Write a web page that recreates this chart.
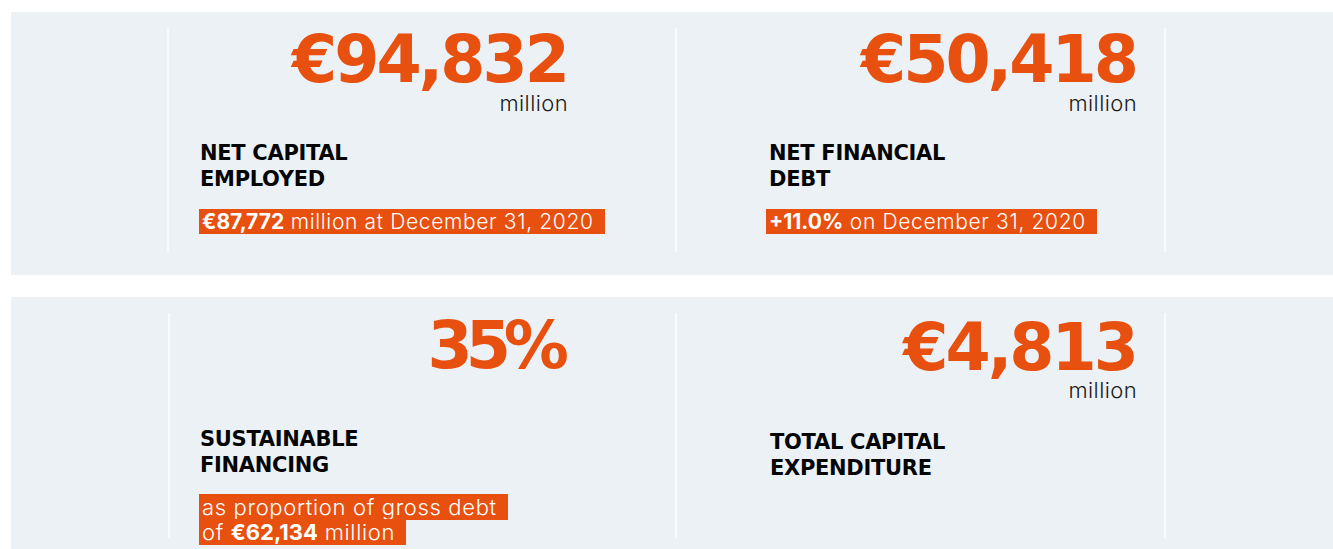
<!DOCTYPE html>
<html>
<head>
<meta charset="utf-8">
<script src="https://cdn.jsdelivr.net/npm/chart.js@4.4.1/dist/chart.umd.min.js"></script>
<style>
  html, body { margin: 0; padding: 0; background: #fff; }
  body { width: 1333px; height: 549px; position: relative; overflow: hidden; }
  .panel { position: absolute; left: 11px; right: 0; background: #ecf1f5; }
  #p1 { top: 12px; height: 263px; }
  #p2 { top: 297px; height: 252px; }
  .vline { position: absolute; width: 2px; background: #f8fafc; }
  .big { position: absolute; font-family: "DejaVu Sans", sans-serif; font-weight: bold;
         font-size: 65px; line-height: 54px; color: #e8500f; letter-spacing: -3px; text-align: right; white-space: nowrap; }
  .unit { position: absolute; font-family: Inter, "Noto Sans", sans-serif; font-weight: 300;
          font-size: 22px; line-height: 20px; color: #1a1a1a; text-align: right; letter-spacing: 0.4px; }
  .title { position: absolute; font-family: "DejaVu Sans", sans-serif; font-weight: bold;
           font-size: 21px; line-height: 26px; color: #050505; white-space: nowrap; letter-spacing: -0.3px; }
  .note { position: absolute; font-family: Inter, "Noto Sans", sans-serif; font-weight: 300;
          font-size: 21px; line-height: 25px; color: #fff; white-space: nowrap; letter-spacing: 0.65px; }
  .note span { background: #e8500f; padding: 0 11px 0 3px; box-decoration-break: clone; -webkit-box-decoration-break: clone; }
  .note b { font-weight: 700; letter-spacing: 0; }
</style>
</head>
<body>
<div class="panel" id="p1"></div>
<div class="panel" id="p2"></div>
<div id="kpis"></div>
<script>
// dati dei quattro indicatori
const kpiValues = ['€94,832', '€50,418', '35%', '€4,813'];
const kpiUnits = ['million', 'million', '', 'million'];
const kpiTitles = [
  ['NET CAPITAL', 'EMPLOYED'],
  ['NET FINANCIAL', 'DEBT'],
  ['SUSTAINABLE', 'FINANCING'],
  ['TOTAL CAPITAL', 'EXPENDITURE']
];
const kpiNotesBold = ['€87,772', '+11.0%', '€62,134', ''];
const kpiNotes = [
  ['{b} million at December 31, 2020'],
  ['{b} on December 31, 2020'],
  ['as proportion of gross debt', 'of {b} million'],
  []
];

// layout delle celle (posizioni in px)
const cells = [
  { right: 567, bigTop: 33, unitTop: 93, titleLeft: 200, titleTop: 140, noteLeft: 199, noteTop: 209, noteSize: 21, bigSpacing: -3 },
  { right: 1136, bigTop: 33, unitTop: 93, titleLeft: 769, titleTop: 140, noteLeft: 766, noteTop: 209, noteSize: 21, bigSpacing: -3 },
  { right: 562, bigTop: 319, unitTop: 0, titleLeft: 200, titleTop: 426, noteLeft: 199, noteTop: 495, noteSize: 22, bigSpacing: -7 },
  { right: 1136, bigTop: 321, unitTop: 380, titleLeft: 770, titleTop: 429, noteLeft: 770, noteTop: 0, noteSize: 21, bigSpacing: -3 }
];
const dividers = [
  { x: 167, top: 28, bottom: 252 }, { x: 675, top: 28, bottom: 252 }, { x: 1164, top: 28, bottom: 252 },
  { x: 168, top: 313, bottom: 538 }, { x: 675, top: 313, bottom: 538 }, { x: 1164, top: 313, bottom: 538 }
];

const root = document.getElementById('kpis');
const add = (cls, css, html) => {
  const d = document.createElement('div');
  d.className = cls;
  Object.assign(d.style, css);
  d.innerHTML = html;
  root.appendChild(d);
  return d;
};

dividers.forEach(v => add('vline', { left: v.x + 'px', top: v.top + 'px', height: (v.bottom - v.top) + 'px' }, ''));

kpiValues.forEach((val, i) => {
  const c = cells[i];
  add('big', { right: (1333 - c.right) + 'px', top: c.bigTop + 'px', letterSpacing: c.bigSpacing + 'px' }, val);
  if (kpiUnits[i]) add('unit', { right: (1333 - c.right - 1) + 'px', top: c.unitTop + 'px' }, kpiUnits[i]);
  add('title', { left: c.titleLeft + 'px', top: c.titleTop + 'px' }, kpiTitles[i].join('<br>'));
  if (kpiNotes[i].length) {
    const txt = kpiNotes[i].map(l => l.replace('{b}', '<b>' + kpiNotesBold[i] + '</b>')).join('<br>');
    add('note', { left: c.noteLeft + 'px', top: c.noteTop + 'px', fontSize: c.noteSize + 'px' }, '<span>' + txt + '</span>');
  }
});
</script>
</body>
</html>
